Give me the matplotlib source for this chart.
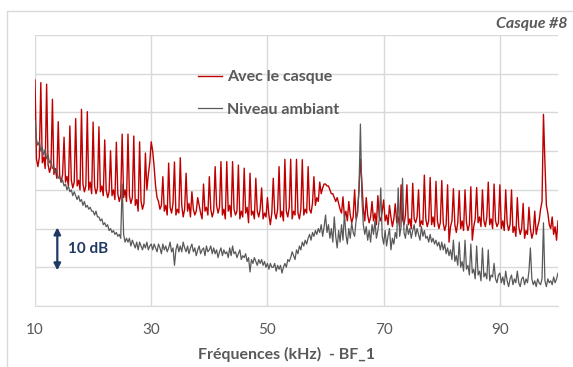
import matplotlib
matplotlib.use('Agg')
import matplotlib.pyplot as plt
from matplotlib.patches import Rectangle

plt.rcParams['font.family'] = ['Lato', 'DejaVu Sans']

# pics des harmoniques (dB), un par kHz de 10 a 100
red_peaks = [58.4, 57.7, 57.3, 53.4, 47.6, 43.6, 46.5, 48.4, 50.8, 50.2,
             47.5, 46.3, 42.9, 40.1, 42.3, 44.4, 44.4, 43.9, 42.4, 39.5,
             42.4, 28.0, 33.4, 36.9, 37.2, 38.3, 34.3, 29.5, 28.0, 31.5,
             33.4, 36.0, 37.3, 37.3, 37.3, 36.4, 35.6, 34.3, 33.0, 30.5,
             28.0, 33.0, 36.0, 37.9, 37.9, 37.9, 37.8, 36.0, 33.4, 32.0,
             31.5, 29.0, 28.0, 28.2, 27.0, 30.0, 38.0, 28.0, 27.0, 28.5,
             27.4, 26.0, 26.4, 31.3, 31.3, 31.7, 30.0, 33.8, 33.2, 32.2,
             32.4, 31.3, 30.3, 29.8, 30.0, 30.8, 30.6, 30.0, 32.0, 31.5,
             31.3, 30.0, 30.0, 28.0, 26.5, 25.5, 24.5, 25.0, 26.0, 23.0,
             22.0]

# bruit de fond avec le casque (k+0.25, k+0.5, k+0.75)
red_floor = [
    [38, 36, 38.5], [37, 38.5, 35.5], [36.5, 34.5, 36], [34, 35.5, 33], [33.5, 32, 34],
    [32, 33.5, 31], [32.5, 30.5, 32], [31, 32.5, 30], [31.5, 29.5, 31], [30, 32, 29],
    [31, 29, 30.5], [29.5, 31, 28.5], [30, 28, 29.5], [28.5, 30, 27.5], [29, 27, 28.5],
    [28, 30, 27], [28.5, 26.5, 28], [26, 27.5, 24.5], [27, 25, 26.5], [30, 34, 37],
    [40, 36, 31], [27, 25, 26], [24.5, 26, 23.5], [25.5, 24, 26.5], [23.5, 25, 24],
    [26, 23, 25], [24.5, 26.5, 23], [25, 23.5, 24.5], [26, 24, 22.5], [24.5, 25.5, 23.5],
    [25, 23, 24.5], [26, 24, 25.5], [23.5, 25, 22.5], [24.5, 26, 23], [25, 23.5, 24.5],
    [22.5, 24.5, 23], [24, 25.5, 21.5], [23.5, 24.5, 22.5], [24.5, 23, 25], [22.5, 24, 23],
    [23.5, 21, 24], [24, 22.5, 25], [23, 24.5, 22], [24.5, 23, 25.5], [22.5, 24.5, 23.5],
    [24, 22.5, 25], [23.5, 25, 24], [25, 24, 26.5], [26, 28, 27], [29, 30.5, 31.5],
    [31, 31, 30], [29, 28, 27], [26.5, 25, 24], [23, 24.5, 22], [23.5, 21.5, 23],
    [22.5, 24, 30], [32, 25, 22], [23.5, 21.5, 23], [22, 24, 21], [23, 22, 24.5],
    [22, 23.5, 21], [23, 20.5, 22.5], [21.5, 23, 20.5], [22.5, 21, 23.5], [21, 22.5, 20],
    [22.5, 21.5, 23], [20.5, 22, 21], [22.5, 20.5, 22], [21, 23, 20.5], [22, 20, 21.5],
    [21.5, 19.5, 21], [16.5, 20.5, 22], [21, 19, 21.5], [20, 22, 19.5], [21.5, 19.5, 21],
    [17, 20.5, 22.5], [21.5, 23, 20.5], [22, 20.5, 23], [21, 22.5, 20], [22, 20.5, 21.5],
    [20, 22, 19.5], [21.5, 19.5, 21], [19, 20.5, 18], [20.5, 18.5, 20], [17.5, 19.5, 18.5],
    [20, 17.5, 19], [18.5, 20.5, 22], [27, 49.5, 37], [24, 21, 20], [18.5, 20.5, 17],
]

# niveau ambiant (pas de 0.25 kHz)
grey = [
    48, 43, 41.5, 42.5, 40, 41, 39, 40.5, 38, 39, 37, 37.5, 35.5, 36, 34.5, 35, 33, 33.5, 32, 32.5,
    31, 31.5, 30, 31, 29.5, 30, 28.5, 29.5, 28.5, 27.5, 28.5, 27, 27.5, 26, 27, 25.5, 26, 25, 25.5, 24.5,
    24.5, 23.5, 24.5, 23, 23, 22, 22.5, 21, 21.5, 20.5, 21, 19.5, 20, 19, 19.5, 18.5, 19, 18, 18.5, 17.5,
    31.5, 18.5, 16.5, 17.5, 16.5, 17.5, 15.5, 17, 16, 15, 16.5, 14.5, 16.5, 15.5, 14.5, 16, 15, 16.5, 14.5, 15.5,
    16, 14.5, 16, 15, 14, 16, 15, 13.5, 16, 14.5, 15.5, 14, 15, 16.5, 14, 15, 10.5, 14.5, 16, 14,
    15.5, 14, 16.5, 15, 14, 15.5, 13.5, 15, 16, 14, 15, 13, 14.5, 15.5, 13.5, 14.5, 15, 13, 15.5, 14,
    14.5, 15.5, 13.5, 15, 13.5, 14.5, 12.5, 14, 15, 13, 14.5, 13.5, 14, 12.5, 15, 13, 15.5, 13.5, 14, 12.5,
    13.5, 14.5, 12, 13, 12.5, 13.5, 11.5, 12.5, 8.8, 12, 11, 12.5, 11.5, 10.5, 12, 11, 12, 10.5, 11.5, 10,
    11, 9.5, 11, 10, 10, 11, 9, 10.5, 9.5, 10.5, 8.5, 10, 11, 10, 12, 11.5, 12.5, 14, 13, 12,
    14.5, 13.5, 15.5, 14.5, 16.5, 15.5, 17, 16, 17.5, 18.5, 17, 19, 18, 19.5, 18.5, 20, 19, 21, 18, 20.5,
    23.5, 19, 21, 17.5, 20, 16.5, 23, 18, 15, 19.5, 16.5, 21, 17, 24, 18.5, 16, 20, 17.5, 21.5, 19,
    18, 22, 24, 30, 47, 28, 21, 18.5, 20.5, 17, 19.5, 16.5, 21, 18.5, 22, 17.5, 19.5, 22.5, 30.5, 18,
    16, 19.5, 15.5, 18, 20, 14.5, 17.5, 16, 19, 17.5, 30.5, 18, 20.5, 33, 19, 17.5, 21, 18.5, 20, 17.5,
    19.5, 21, 18, 20, 18.5, 17, 20.5, 18, 19.5, 17.5, 18, 16.5, 18.5, 16.5, 17.5, 16, 17, 15.5, 16.5, 14.5,
    16.5, 14.5, 16, 13.5, 15, 13, 14.5, 12, 17, 11.5, 13, 10.5, 16.5, 10, 11.5, 9, 17, 9.5, 10.5, 8,
    16, 8.5, 9.5, 7, 15.5, 8, 9, 6.5, 15, 7.5, 8.5, 7, 14.5, 6.5, 8, 7.5, 11, 7, 6, 8,
    8.5, 6, 7.5, 5.5, 9, 6.5, 5, 7, 8, 5.5, 7, 6, 9, 6, 5, 7, 7.5, 5.5, 7, 6,
    9, 15, 7, 5.5, 6.5, 5, 7, 6, 5.5, 7, 21.5, 6.5, 5, 7, 6, 6.5, 5.5, 7.5, 6, 7,
    8.5,
]

# assemblage des series
freq = []
red = []
for i, k in enumerate(range(10, 100)):
    freq += [k, k + 0.25, k + 0.5, k + 0.75]
    red += [red_peaks[i]] + red_floor[i]
freq.append(100)
red.append(red_peaks[-1])

fig = plt.figure(figsize=(5.73, 3.67), dpi=100)
ax = fig.add_axes([35 / 573, 61 / 367, 523 / 573, 271 / 367])

ax.plot(freq, red, color='#c00000', lw=1.0, label='Avec le casque')
ax.plot(freq, grey, color='#595959', lw=0.9, label='Niveau ambiant')

ax.set_xlim(10, 100)
ax.set_ylim(0, 70)
ax.set_xticks([10, 30, 50, 70, 90])
ax.set_yticks(range(0, 71, 10))
ax.tick_params(axis='y', left=False, labelleft=False)
ax.tick_params(axis='x', length=0, pad=12, labelsize=11, labelcolor='#595959')
ax.grid(color='#d9d9d9', lw=1)
ax.set_axisbelow(True)
for s in ['top', 'left', 'right']:
    ax.spines[s].set_visible(False)
ax.spines['bottom'].set_color('#d9d9d9')

ax.legend(loc='upper left', bbox_to_anchor=(198 / 573, 1 - 70 / 367),
          bbox_transform=fig.transFigure, frameon=False,
          prop=dict(weight='bold', size=11.5), labelcolor='#595959',
          handlelength=1.5, handletextpad=0.3, labelspacing=1.15,
          borderpad=0, borderaxespad=0)

# fleche 10 dB
ax.annotate('', xy=(13.84, 9.2), xytext=(13.84, 20.3),
            arrowprops=dict(arrowstyle='<|-|>', color='#1f3864', lw=1.6,
                            mutation_scale=10, shrinkA=0, shrinkB=0))
ax.text(15.6, 14.6, '10 dB', fontsize=11, fontweight='bold', color='#1f3864', va='center')

fig.text(568 / 573, 1 - 24 / 367, 'Casque #8', ha='right', va='center', fontsize=11.5,
         fontweight='bold', fontstyle='italic', color='#595959')
fig.text(286 / 573, 1 - 354 / 367, 'Fréquences (kHz)  - BF_1', ha='center', va='center',
         fontsize=11.5, fontweight='bold', color='#595959')

# cadre exterieur
fig.add_artist(Rectangle((6.5 / 573, -0.05), 1.0, 1 - 10.5 / 367 + 0.05,
                         transform=fig.transFigure, fill=False,
                         edgecolor='#d9d9d9', lw=1))

fig.savefig('out.png', dpi=100)
